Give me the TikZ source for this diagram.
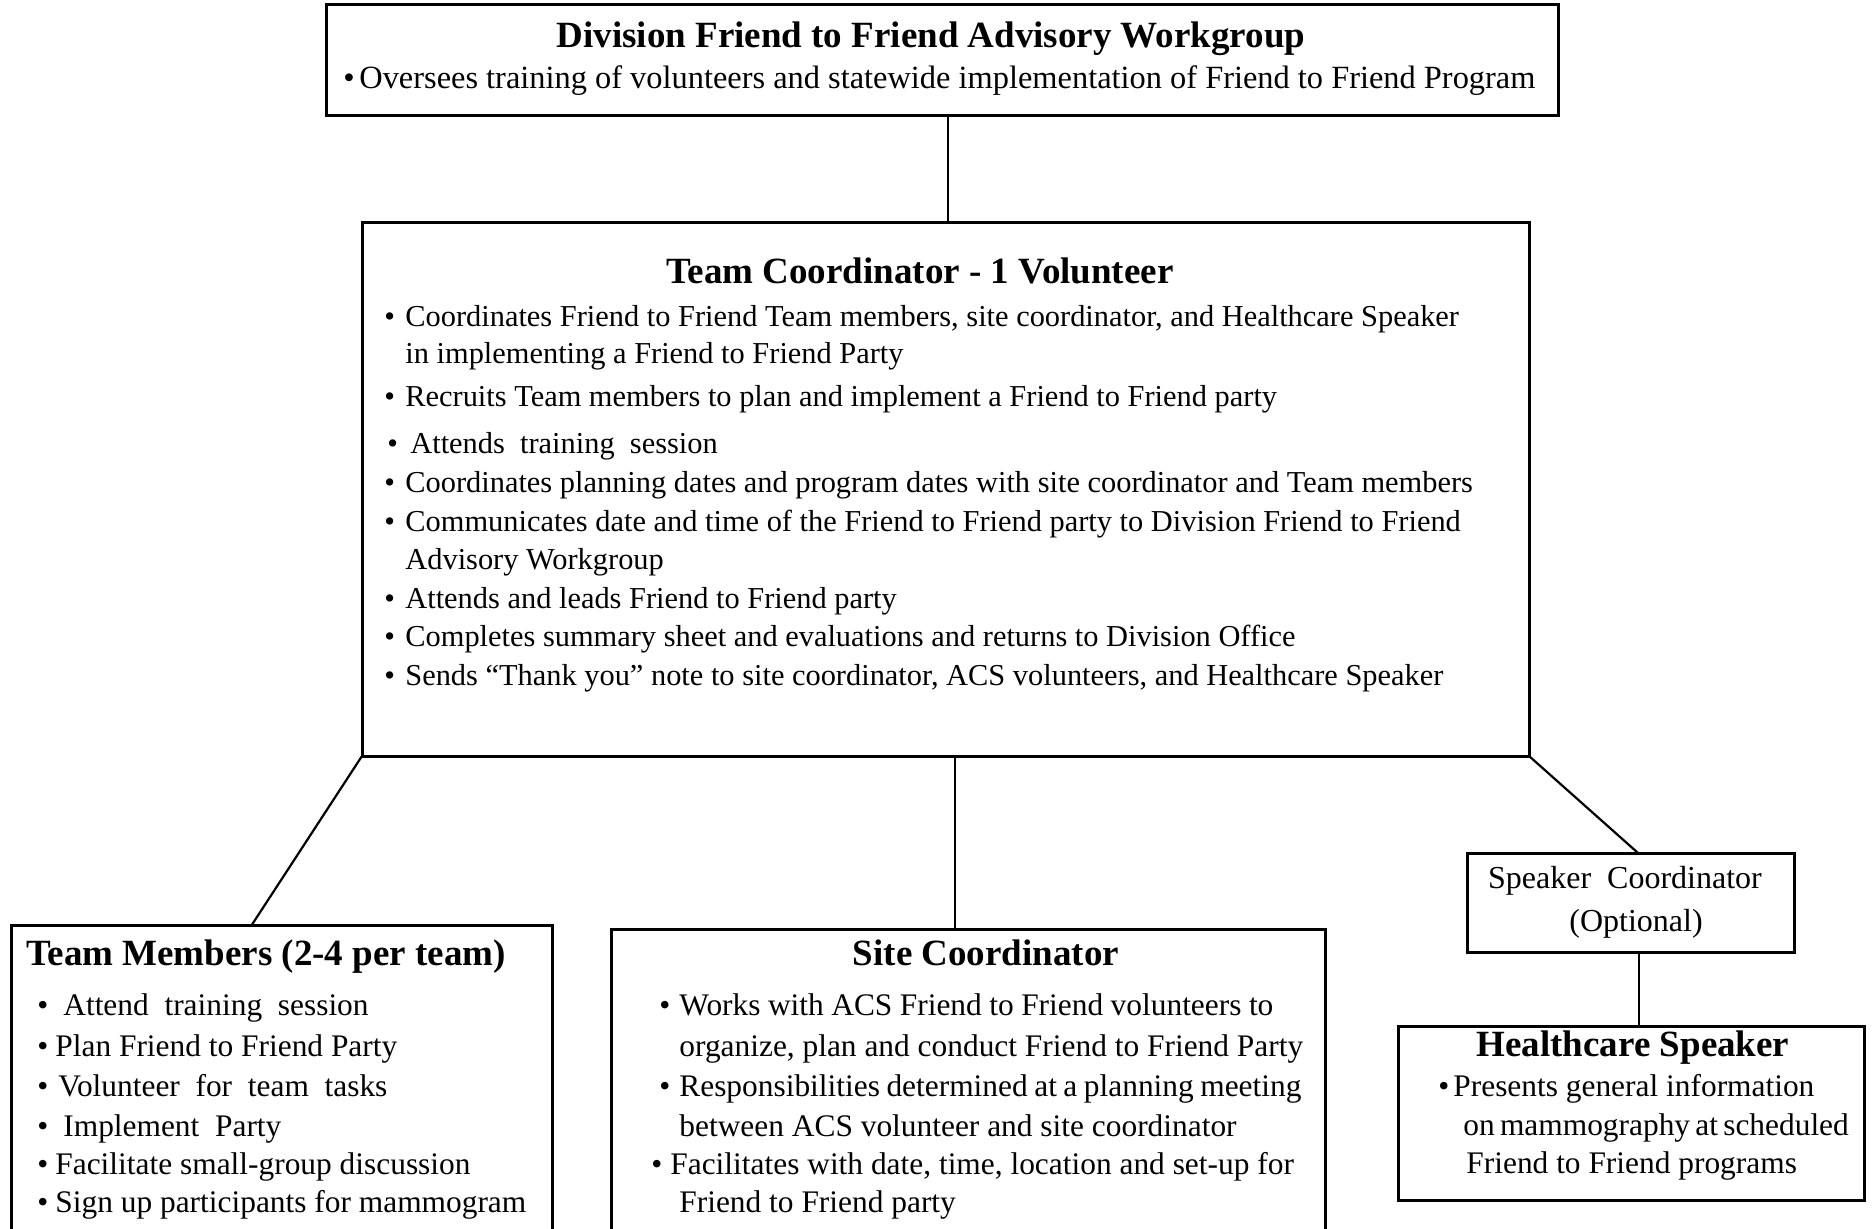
\documentclass[tikz,border=0pt]{standalone}
\usepackage{fontspec}
\setmainfont{Liberation Serif}
\usetikzlibrary{calc}
\newcommand{\mybul}[1][10.5pt]{\makebox[#1][l]{•}}
\tikzset{
  box/.style={draw, line width=1.5pt, inner sep=0pt, outer sep=0pt, anchor=north west},
  conn/.style={line width=1.1pt},
  body/.style={font=\fontsize{15.2}{18}\selectfont, inner sep=0pt, anchor=mid west},
  bodyb/.style={font=\fontsize{15.7}{18}\selectfont, inner sep=0pt, anchor=mid west},
  bodyc/.style={font=\fontsize{16}{19}\selectfont, inner sep=0pt, anchor=mid},
  ttl/.style={font=\fontsize{18.5}{21}\selectfont\bfseries, inner sep=0pt, anchor=mid},
}
\begin{document}
\begin{tikzpicture}[x=0.5pt, y=-0.5pt]
\clip (0,0) rectangle (1872,1229);
% boxes
\node[box, minimum width=616pt, minimum height=55.5pt] (top) at (326,5) {};
\node[box, minimum width=583.5pt, minimum height=266.5pt] (tc) at (362,223) {};
\node[box, minimum width=270.5pt, minimum height=160pt] (tm) at (11,925) {};
\node[box, minimum width=357pt, minimum height=160pt] (sc) at (611,929) {};
\node[box, minimum width=163.5pt, minimum height=49.5pt] (sp) at (1467,853) {};
\node[box, minimum width=233pt, minimum height=87pt] (hs) at (1398,1026) {};
% top box text
\node[ttl] (toptitle) at (931,43) {Division Friend to Friend Advisory Workgroup};
\node[body, font=\fontsize{16.2}{19}\selectfont] (top1) at (343,84) {\mybul[8pt]Oversees training of volunteers and statewide implementation of Friend to Friend Program};
% team coordinator
\node[ttl] (tctitle) at (920,279) {Team\ Coordinator\ -\ 1\ Volunteer};
\node[body] (tc1) at (384,322) {\mybul Coordinates Friend to Friend Team members, site coordinator, and Healthcare Speaker};
\node[body] (tc2) at (405,359) {in implementing a Friend to Friend Party};
\node[body] (tc3) at (384,402) {\mybul Recruits Team members to plan and implement a Friend to Friend party};
\node[body] (tc4) at (387,449) {\mybul[11.5pt]Attends~ training~ session};
\node[body] (tc5) at (384,488) {\mybul Coordinates planning dates and program dates with site coordinator and Team members};
\node[body] (tc6) at (384,527) {\mybul Communicates date and time of the Friend to Friend party to Division Friend to Friend};
\node[body] (tc7) at (405,565) {Advisory Workgroup};
\node[body] (tc8) at (384,604) {\mybul Attends and leads Friend to Friend party};
\node[body] (tc9) at (384,642) {\mybul Completes summary sheet and evaluations and returns to Division Office};
\node[body] (tc10) at (384,681) {\mybul Sends “Thank you” note to site coordinator, ACS volunteers, and Healthcare Speaker};
% team members
\node[ttl] (tmtitle) at (266,961) {Team Members (2-4 per team)};
\node[bodyb] (tm1) at (37,1011) {\mybul[13pt]Attend~ training~ session};
\node[bodyb] (tm2) at (37,1052) {\mybul[9pt]Plan Friend to Friend Party};
\node[bodyb] (tm3) at (37,1092) {\mybul Volunteer~ for~ team~ tasks};
\node[bodyb] (tm4) at (37,1132) {\mybul[13pt]Implement~ Party};
\node[bodyb] (tm5) at (37,1170) {\mybul[9pt]Facilitate small-group discussion};
\node[bodyb] (tm6) at (37,1208) {\mybul[9pt]Sign up participants for mammogram};
% site coordinator
\node[ttl] (sctitle) at (986,961) {Site Coordinator};
\node[bodyb] (sc1) at (659,1011) {\mybul[10pt]\makebox[297pt][s]{Works with ACS Friend to Friend volunteers to}};
\node[bodyb] (sc2) at (679,1052) {organize, plan and conduct Friend to Friend Party};
\node[bodyb] (sc3) at (659,1092) {\mybul[10pt]\makebox[311pt][s]{Responsibilities determined at a planning meeting}};
\node[bodyb] (sc4) at (679,1132) {between ACS volunteer and site coordinator};
\node[bodyb] (sc5) at (651,1170) {\mybul[9.5pt]Facilitates with date, time, location and set-up for};
\node[bodyb] (sc6) at (679,1208) {Friend to Friend party};
% speaker coordinator
\node[bodyc] (sp1) at (1625,884) {Speaker\ \ Coordinator};
\node[bodyc] (sp2) at (1636,927) {(Optional)};
% healthcare speaker
\node[ttl] (hstitle) at (1633,1052) {Healthcare Speaker};
\node[bodyb] (hs1) at (1438,1092) {\mybul[7.5pt]Presents general information};
\node[bodyb] (hs2) at (1463,1131) {\makebox[191pt][s]{on mammography at scheduled}};
\node[bodyb] (hs3) at (1466,1169) {Friend to Friend programs};
% connectors
\coordinate (c1) at (948,0);
\coordinate (cm) at (955,0);
\coordinate (cs) at (1639,0);
\draw[conn] (top.south -| c1) -- (tc.north -| c1);
\draw[conn] (tc.south west) -- ($(tm.north west)!0.445!(tm.north east)$);
\draw[conn] (tc.south -| cm) -- (sc.north -| cm);
\draw[conn] (tc.south east) -- ($(sp.north west)!0.523!(sp.north east)$);
\draw[conn] (sp.south -| cs) -- (hs.north -| cs);
\end{tikzpicture}
\end{document}
